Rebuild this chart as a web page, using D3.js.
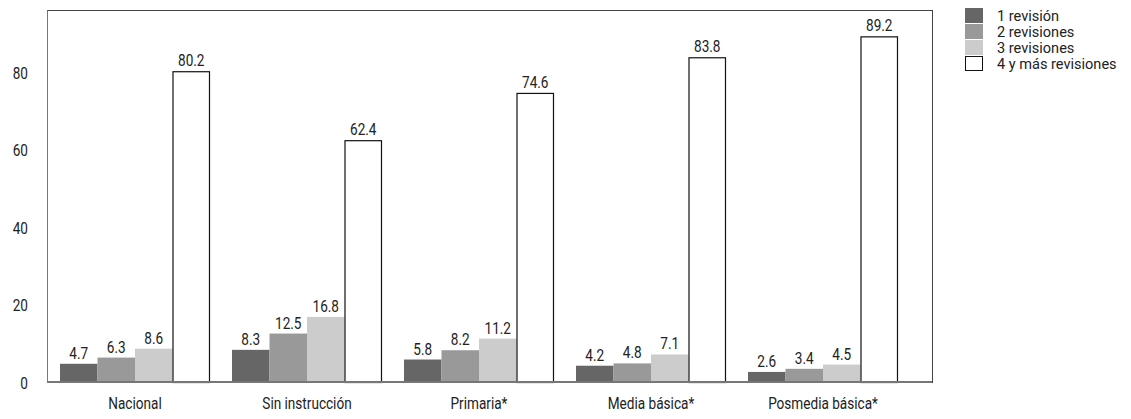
<!DOCTYPE html>
<html>
<head>
<meta charset="utf-8">
<script src="https://cdn.jsdelivr.net/npm/d3@7"></script>
<style>
  html, body { margin: 0; padding: 0; background: #fff; }
  svg text { font-family: "Roboto", "Liberation Sans", sans-serif; fill: #222; }
</style>
</head>
<body>
<svg id="chart" width="1131" height="419"></svg>
<script>
// Education levels (groups) and number of prenatal check-ups (series)
const categories = ["Nacional", "Sin instrucción", "Primaria*", "Media básica*", "Posmedia básica*"];
const seriesNames = ["1 revisión", "2 revisiones", "3 revisiones", "4 y más revisiones"];
const oneRevision    = [4.7, 8.3, 5.8, 4.2, 2.6];
const twoRevisions   = [6.3, 12.5, 8.2, 4.8, 3.4];
const threeRevisions = [8.6, 16.8, 11.2, 7.1, 4.5];
const fourPlus       = [80.2, 62.4, 74.6, 83.8, 89.2];
const yTicks = [0, 20, 40, 60, 80];

const seriesValues = [oneRevision, twoRevisions, threeRevisions, fourPlus];
const fills = ["#666666", "#999999", "#cccccc", "#ffffff"];

// Condensed look: squeeze glyphs horizontally
const SQ = 0.8;

const svg = d3.select("#chart");
const frame = { left: 47, right: 932, top: 10, bottom: 382 };

const x0 = d3.scaleBand()
  .domain(categories)
  .range([49, 909])
  .paddingInner(0.128)
  .paddingOuter(0.064);

const x1 = d3.scaleBand()
  .domain(seriesNames)
  .range([0, x0.bandwidth()]);

const y = d3.scaleLinear()
  .domain([0, 96])
  .range([frame.bottom, frame.top]);

const color = d3.scaleOrdinal().domain(seriesNames).range(fills);

// Plot frame
svg.append("rect")
  .attr("x", frame.left + 0.5)
  .attr("y", frame.top + 0.5)
  .attr("width", frame.right - frame.left)
  .attr("height", frame.bottom - frame.top)
  .attr("fill", "none")
  .attr("stroke", "#444")
  .attr("stroke-width", 1);

// Y axis labels (no tick marks)
const yAxis = d3.axisLeft(y).tickValues(yTicks).tickSize(0).tickPadding(19 / SQ);
const yg = svg.append("g").attr("transform", `translate(${frame.left},0)`).call(yAxis);
yg.select(".domain").attr("stroke", "#777");
yg.selectAll(".tick text")
  .attr("transform", `scale(${SQ},1)`)
  .style("font-size", "17px")
  .attr("fill", "#222")
  .attr("dy", "0.36em");

// Bars
const data = categories.map((c, i) => ({
  category: c,
  values: seriesNames.map((s, j) => ({ series: s, value: seriesValues[j][i] }))
}));

const groups = svg.append("g").selectAll("g")
  .data(data)
  .join("g")
  .attr("transform", d => `translate(${x0(d.category)},0)`);

const isOutlined = s => s === seriesNames[3];

groups.selectAll("rect")
  .data(d => d.values)
  .join("rect")
  .attr("x", d => x1(d.series) + (isOutlined(d.series) ? 0.5 : 0))
  .attr("y", d => y(d.value) + (isOutlined(d.series) ? 0.5 : 0))
  .attr("width", d => x1.bandwidth() - (isOutlined(d.series) ? 1 : 0))
  .attr("height", d => y(0) - y(d.value))
  .attr("fill", d => color(d.series))
  .attr("stroke", d => isOutlined(d.series) ? "#111" : "none")
  .attr("stroke-width", 1.2);

// Value labels above each bar
groups.selectAll("text.value")
  .data(d => d.values)
  .join("text")
  .attr("class", "value")
  .attr("transform", d => `translate(${x1(d.series) + x1.bandwidth() / 2},${y(d.value) - 5}) scale(${SQ},1)`)
  .attr("text-anchor", "middle")
  .style("font-size", "17px")
  .text(d => d.value.toFixed(1));

// Baseline
svg.append("line")
  .attr("x1", frame.left)
  .attr("x2", frame.right)
  .attr("y1", frame.bottom)
  .attr("y2", frame.bottom)
  .attr("stroke", "#777")
  .attr("stroke-width", 2);

// Category labels
const xAxis = d3.axisBottom(x0).tickSize(0).tickPadding(15);
const xg = svg.append("g").attr("transform", `translate(0,${frame.bottom})`).call(xAxis);
xg.select(".domain").remove();
xg.selectAll(".tick text")
  .attr("transform", `scale(${SQ},1)`)
  .style("font-size", "17px")
  .attr("fill", "#222");

// Legend
const legend = svg.append("g").attr("transform", "translate(965,8)");
const items = legend.selectAll("g")
  .data(seriesNames)
  .join("g")
  .attr("transform", (d, i) => `translate(0,${i * 16})`);
items.append("rect")
  .attr("x", d => isOutlined(d) ? 0.5 : 0)
  .attr("y", d => isOutlined(d) ? 0.5 : 0)
  .attr("width", d => isOutlined(d) ? 17 : 18)
  .attr("height", d => isOutlined(d) ? 14 : 15)
  .attr("fill", d => color(d))
  .attr("stroke", d => isOutlined(d) ? "#111" : "none");
items.append("text")
  .attr("transform", "translate(32,7.5) scale(1.04,1)")
  .attr("dy", "0.36em")
  .style("font-size", "14px")
  .text(d => d);
</script>
</body>
</html>
